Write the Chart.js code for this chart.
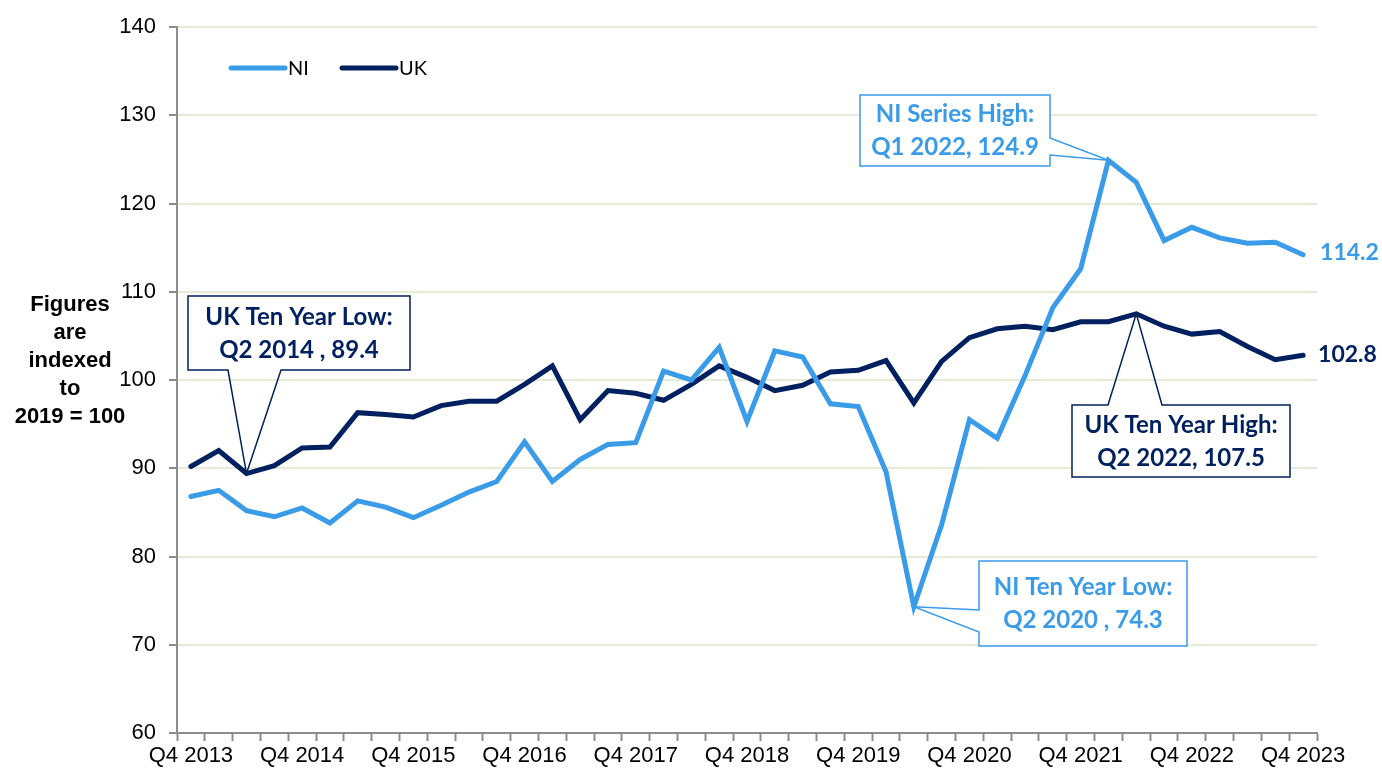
<!DOCTYPE html>
<html>
<head>
<meta charset="utf-8">
<script src="https://cdn.jsdelivr.net/npm/chart.js@4.4.0/dist/chart.umd.min.js"></script>
<style>
  html, body { margin: 0; padding: 0; background: #fff; }
  #wrap { width: 1382px; height: 770px; }
</style>
</head>
<body>
<div id="wrap"><canvas id="chart" width="1382" height="770"></canvas></div>
<script>
// quarters, Q4 2013 .. Q4 2023
const quarters = [
  'Q4 2013', 'Q1 2014', 'Q2 2014', 'Q3 2014',
  'Q4 2014', 'Q1 2015', 'Q2 2015', 'Q3 2015',
  'Q4 2015', 'Q1 2016', 'Q2 2016', 'Q3 2016',
  'Q4 2016', 'Q1 2017', 'Q2 2017', 'Q3 2017',
  'Q4 2017', 'Q1 2018', 'Q2 2018', 'Q3 2018',
  'Q4 2018', 'Q1 2019', 'Q2 2019', 'Q3 2019',
  'Q4 2019', 'Q1 2020', 'Q2 2020', 'Q3 2020',
  'Q4 2020', 'Q1 2021', 'Q2 2021', 'Q3 2021',
  'Q4 2021', 'Q1 2022', 'Q2 2022', 'Q3 2022',
  'Q4 2022', 'Q1 2023', 'Q2 2023', 'Q3 2023',
  'Q4 2023'
];

const niValues = [
  86.8, 87.5, 85.2, 84.5,
  85.5, 83.8, 86.3, 85.6,
  84.4, 85.8, 87.3, 88.5,
  93.0, 88.5, 91.0, 92.7,
  92.9, 101.0, 100.0, 103.7,
  95.3, 103.3, 102.6, 97.3,
  97.0, 89.6, 74.3, 83.6,
  95.5, 93.4, 100.5, 108.2,
  112.6, 124.9, 122.4, 115.8,
  117.3, 116.1, 115.5, 115.6,
  114.2
];

const ukValues = [
  90.2, 92.0, 89.4, 90.3,
  92.3, 92.4, 96.3, 96.1,
  95.8, 97.1, 97.6, 97.6,
  99.5, 101.6, 95.5, 98.8,
  98.5, 97.7, 99.5, 101.6,
  100.3, 98.8, 99.4, 100.9,
  101.1, 102.2, 97.4, 102.1,
  104.8, 105.8, 106.1, 105.7,
  106.6, 106.6, 107.5, 106.1,
  105.2, 105.5, 103.8, 102.3,
  102.8
];

const yTicks = [60, 70, 80, 90, 100, 110, 120, 130, 140];

const NI_COLOR = '#3a9be9';
const UK_COLOR = '#00205f';

// callout boxes: text lines, box in pixels, which side the pointer leaves from
const callouts = [
  { lines: ['UK Ten Year Low:', 'Q2 2014 , 89.4'], series: 'uk', idx: 2, color: UK_COLOR,
    box: { x: 188, y: 296, w: 222, h: 74 }, side: 'bottom', p1: 228, p2: 281 },
  { lines: ['NI Series High:', 'Q1 2022, 124.9'], series: 'ni', idx: 33, color: NI_COLOR,
    box: { x: 860, y: 95, w: 190, h: 71 }, side: 'right', p1: 138, p2: 155 },
  { lines: ['UK Ten Year High:', 'Q2 2022, 107.5'], series: 'uk', idx: 34, color: UK_COLOR,
    box: { x: 1072, y: 405, w: 218, h: 72 }, side: 'top', p1: 1108, p2: 1162 },
  { lines: ['NI Ten Year Low:', 'Q2 2020 , 74.3'], series: 'ni', idx: 26, color: NI_COLOR,
    box: { x: 979, y: 561, w: 208, h: 85 }, side: 'left', p1: 610, p2: 632 }
];

function drawCallout(ctx, c, tx, ty) {
  const L = c.box.x, T = c.box.y, R = c.box.x + c.box.w, B = c.box.y + c.box.h;
  ctx.save();
  ctx.fillStyle = '#fff';
  ctx.fillRect(L, T, c.box.w, c.box.h);
  ctx.beginPath();
  ctx.moveTo(L, T);
  if (c.side === 'top') { ctx.lineTo(c.p1, T); ctx.lineTo(tx, ty); ctx.lineTo(c.p2, T); }
  ctx.lineTo(R, T);
  if (c.side === 'right') { ctx.lineTo(R, c.p1); ctx.lineTo(tx, ty); ctx.lineTo(R, c.p2); }
  ctx.lineTo(R, B);
  if (c.side === 'bottom') { ctx.lineTo(c.p2, B); ctx.lineTo(tx, ty); ctx.lineTo(c.p1, B); }
  ctx.lineTo(L, B);
  if (c.side === 'left') { ctx.lineTo(L, c.p2); ctx.lineTo(tx, ty); ctx.lineTo(L, c.p1); }
  ctx.closePath();
  ctx.strokeStyle = c.color;
  ctx.lineWidth = 1.5;
  ctx.stroke();

  ctx.fillStyle = c.color;
  ctx.font = 'bold 24px Lato';
  ctx.textAlign = 'center';
  ctx.textBaseline = 'middle';
  const cx = (L + R) / 2, cy = (T + B) / 2;
  ctx.fillText(c.lines[0], cx, cy - 16);
  ctx.fillText(c.lines[1], cx, cy + 17);
  ctx.restore();
}

const extras = {
  id: 'extras',
  afterDatasetsDraw(chart) {
    const ctx = chart.ctx;
    const xs = chart.scales.x, ys = chart.scales.y;
    const series = { ni: niValues, uk: ukValues };

    callouts.forEach(c => {
      const v = series[c.series][c.idx];
      drawCallout(ctx, c, xs.getPixelForValue(c.idx), ys.getPixelForValue(v));
    });

    // end-of-line value labels
    const last = quarters.length - 1;
    ctx.save();
    ctx.font = 'bold 23px Lato';
    ctx.textBaseline = 'middle';
    ctx.textAlign = 'left';
    ctx.fillStyle = NI_COLOR;
    ctx.fillText(niValues[last].toFixed(1), xs.getPixelForValue(last) + 17, ys.getPixelForValue(niValues[last]) - 2);
    ctx.fillStyle = UK_COLOR;
    ctx.fillText(ukValues[last].toFixed(1), xs.getPixelForValue(last) + 15, ys.getPixelForValue(ukValues[last]) - 1);

    // legend
    ctx.lineCap = 'round';
    ctx.lineWidth = 5;
    ctx.font = '20px Lato';
    ctx.textBaseline = 'middle';
    [['NI', NI_COLOR, 231], ['UK', UK_COLOR, 342]].forEach(([name, col, x0]) => {
      ctx.strokeStyle = col;
      ctx.beginPath();
      ctx.moveTo(x0, 68);
      ctx.lineTo(x0 + 54, 68);
      ctx.stroke();
      ctx.fillStyle = '#000';
      ctx.fillText(name, x0 + 57, 69);
    });

    // y-axis title
    ctx.font = 'bold 22px "Liberation Sans", Arial';
    ctx.textAlign = 'center';
    ctx.fillStyle = '#000';
    ['Figures', 'are', 'indexed', 'to', '2019 = 100'].forEach((t, i) => {
      ctx.fillText(t, 70, 305 + i * 28);
    });
    ctx.restore();
  }
};

new Chart(document.getElementById('chart'), {
  type: 'line',
  data: {
    labels: quarters,
    datasets: [
      { label: 'NI', data: niValues, borderColor: NI_COLOR, backgroundColor: NI_COLOR,
        borderWidth: 5, pointRadius: 0, tension: 0, borderCapStyle: 'round' },
      { label: 'UK', data: ukValues, borderColor: UK_COLOR, backgroundColor: UK_COLOR,
        borderWidth: 5, pointRadius: 0, tension: 0, borderCapStyle: 'round' }
    ]
  },
  options: {
    responsive: false,
    devicePixelRatio: 1,
    animation: false,
    layout: { padding: { left: 0, top: 27, right: 65, bottom: 0 } },
    plugins: {
      legend: { display: false },
      tooltip: { enabled: false }
    },
    scales: {
      x: {
        offset: true,
        grid: { offset: true, drawOnChartArea: false, tickLength: 8, tickColor: '#8c8c8c', tickWidth: 2 },
        border: { color: '#8c8c8c', width: 2 },
        ticks: {
          autoSkip: false,
          maxRotation: 0,
          padding: 2,
          color: '#000',
          font: { family: '"Liberation Sans", Arial', size: 22 },
          callback: (v, i) => (i % 4 === 0 ? quarters[i] : '')
        },
        afterFit: s => { s.height = 37; }
      },
      y: {
        min: 60,
        max: 140,
        afterBuildTicks: s => { s.ticks = yTicks.map(v => ({ value: v })); },
        grid: { color: '#e5ebd7', lineWidth: 2, tickLength: 8, tickColor: '#8c8c8c', tickWidth: 2 },
        border: { color: '#8c8c8c', width: 2 },
        ticks: {
          padding: 13,
          color: '#000',
          font: { family: '"Liberation Sans", Arial', size: 22 }
        },
        afterFit: s => { s.width = 177; }
      }
    }
  },
  plugins: [extras]
});
</script>
</body>
</html>
